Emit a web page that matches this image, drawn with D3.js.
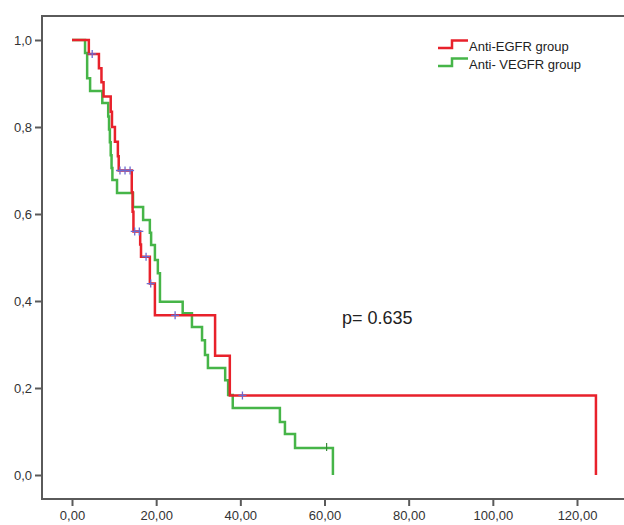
<!DOCTYPE html>
<html>
<head>
<meta charset="utf-8">
<script src="https://cdn.jsdelivr.net/npm/d3@7"></script>
<style>
  body { margin: 0; background: #fff; }
  svg { display: block; font-family: "Liberation Sans", Arial, sans-serif; }
</style>
</head>
<body>
<div id="chart"></div>
<script>
// Kaplan-Meier steps (time, survival)
let egfrTimes = [0, 4.0, 6.4, 7.0, 7.5, 9.2, 9.5, 10.2, 10.9, 11.1, 14.2, 14.4, 14.6, 16.2, 16.4, 18.5, 19.7, 34.0, 37.5, 124.5];
let egfrSurv  = [1, 0.968, 0.935, 0.903, 0.870, 0.835, 0.800, 0.766, 0.733, 0.700, 0.650, 0.605, 0.560, 0.530, 0.502, 0.440, 0.367, 0.274, 0.183, 0];
let egfrCensTimes = [4.8, 11.4, 12.6, 13.8, 14.9, 16.0, 17.6, 18.7, 24.5, 40.5];
let egfrCensSurv  = [0.968, 0.700, 0.700, 0.700, 0.560, 0.560, 0.502, 0.440, 0.367, 0.183];

let vegfrTimes = [0, 3.1, 3.6, 4.3, 7.2, 8.6, 8.8, 9.0, 9.2, 9.4, 9.6, 10.7, 14.5, 16.9, 18.5, 18.8, 19.7, 20.4, 20.9, 26.3, 28.5, 30.9, 31.6, 32.3, 36.4, 37.1, 38.2, 49.4, 50.6, 53.0, 62.0];
let vegfrSurv  = [1, 0.970, 0.912, 0.883, 0.855, 0.824, 0.794, 0.765, 0.735, 0.706, 0.678, 0.648, 0.616, 0.586, 0.557, 0.529, 0.494, 0.464, 0.398, 0.372, 0.340, 0.310, 0.276, 0.246, 0.218, 0.184, 0.154, 0.122, 0.094, 0.062, 0];
let vegfrCensTimes = [60.5];
let vegfrCensSurv  = [0.062];

let xTicks = [0, 20, 40, 60, 80, 100, 120];
let yTicks = [0, 0.2, 0.4, 0.6, 0.8, 1.0];
let seriesNames = ["Anti-EGFR group", "Anti- VEGFR group"];
let pLabel = "p= 0.635";

// layout
let svgWidth = 624, svgHeight = 525;
let frame = { left: 42, top: 16, bottom: 499, right: 640 };

let colors = { egfr: "#e8212b", vegfr: "#46b548", cens: "#6a6ad0", axis: "#5a5a5a", text: "#333" };

let svg = d3.select('#chart')
            .append('svg')
            .attr('width', svgWidth)
            .attr('height', svgHeight);

let xScale = d3.scaleLinear().domain([0, 120]).range([72, 577]);
let yScale = d3.scaleLinear().domain([0, 1]).range([475, 40]);

// frame
svg.append('path')
    .attr('d', `M${frame.right},${frame.top}H${frame.left}V${frame.bottom}H${frame.right}`)
    .attr('fill', 'none')
    .attr('stroke', colors.axis)
    .attr('stroke-width', 2);

// axes
let fmt = (p) => (d => d3.format(p)(d).replace('.', ','));

let xAxis = svg.append('g')
    .attr('transform', `translate(0, ${frame.bottom})`)
    .call(d3.axisBottom(xScale).tickValues(xTicks).tickFormat(fmt('.2f')).tickSize(7).tickPadding(5));
let yAxis = svg.append('g')
    .attr('transform', `translate(${frame.left}, 0)`)
    .call(d3.axisLeft(yScale).tickValues(yTicks).tickFormat(fmt('.1f')).tickSize(7).tickPadding(3));

[xAxis, yAxis].forEach(a => {
    a.select('.domain').remove();
    a.selectAll('line').attr('stroke', colors.axis).attr('stroke-width', 2);
    a.selectAll('text').attr('fill', colors.text).style('font-size', '13px')
        .style('font-family', '"Liberation Sans", Arial, sans-serif');
});

// curves
let line = d3.line()
    .x(d => xScale(d[0]))
    .y(d => yScale(d[1]))
    .curve(d3.curveStepAfter);

let vegfrData = d3.zip(vegfrTimes, vegfrSurv);
let egfrData = d3.zip(egfrTimes, egfrSurv);

svg.append('path')
    .attr('d', line(vegfrData))
    .attr('fill', 'none')
    .attr('stroke', colors.vegfr)
    .attr('stroke-width', 2.5);

svg.append('path')
    .attr('d', line(egfrData))
    .attr('fill', 'none')
    .attr('stroke', colors.egfr)
    .attr('stroke-width', 2.5);

// censor marks
svg.selectAll('.cens-v')
    .data(d3.zip(vegfrCensTimes, vegfrCensSurv))
    .enter()
    .append('line')
    .attr('x1', d => xScale(d[0])).attr('x2', d => xScale(d[0]))
    .attr('y1', d => yScale(d[1]) - 5).attr('y2', d => yScale(d[1]) + 3)
    .attr('stroke', '#3a8a3a')
    .attr('stroke-width', 1.2);

let cross = svg.selectAll('.cens-e')
    .data(d3.zip(egfrCensTimes, egfrCensSurv))
    .enter()
    .append('path')
    .attr('d', d => {
        let cx = xScale(d[0]), cy = yScale(d[1]);
        return `M${cx - 4},${cy}H${cx + 4}M${cx},${cy - 4}V${cy + 4}`;
    })
    .attr('stroke', colors.cens)
    .attr('stroke-width', 1.3);

// legend
let legend = svg.append('g').attr('transform', 'translate(438, 0)');
let legendColors = [colors.egfr, colors.vegfr];
seriesNames.forEach((name, i) => {
    let y0 = 48 + i * 18;
    legend.append('path')
        .attr('d', `M0,${y0}H14V${y0 - 7.5}H30`)
        .attr('fill', 'none')
        .attr('stroke', legendColors[i])
        .attr('stroke-width', 2.5);
    legend.append('text')
        .attr('x', 31)
        .attr('y', y0 + 3)
        .attr('fill', '#222')
        .style('font-size', '13px')
        .text(name);
});

// p value
svg.append('text')
    .attr('x', 342)
    .attr('y', 324)
    .attr('fill', '#222')
    .style('font-size', '18px')
    .text(pLabel);
</script>
</body>
</html>
